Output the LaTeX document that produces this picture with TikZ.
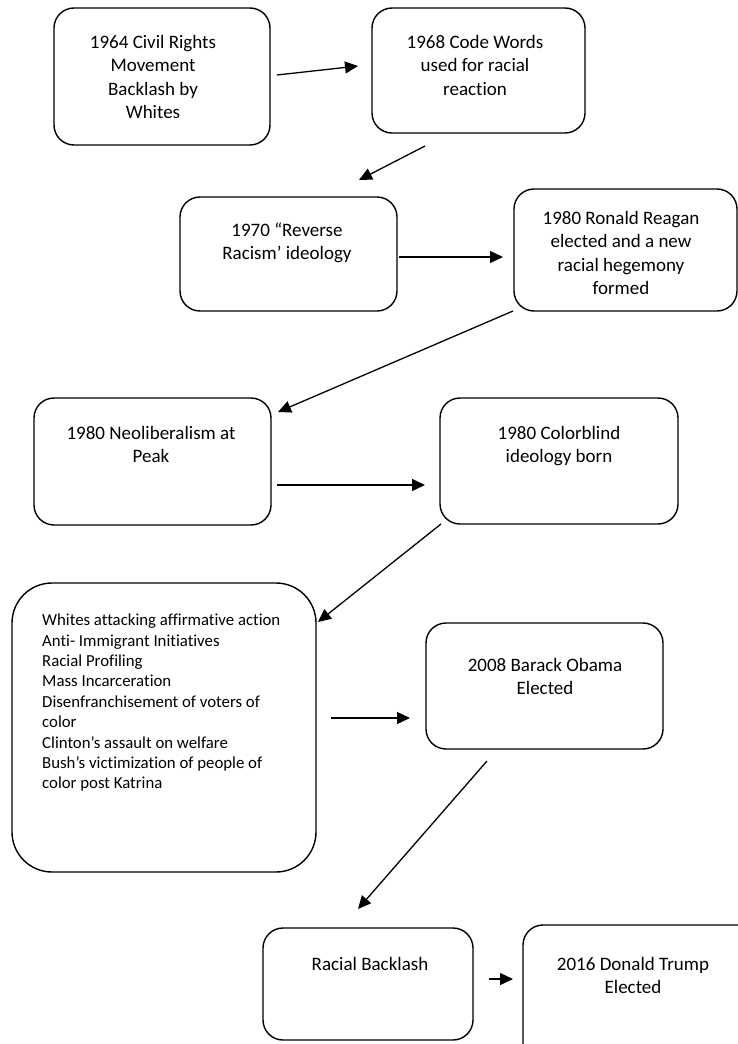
\documentclass[tikz,border=0pt]{standalone}
\usepackage{fontspec}
\setmainfont{Carlito}[Ligatures={NoCommon}]
\usetikzlibrary{arrows.meta}
\begin{document}
\begin{tikzpicture}[x=1pt,y=-1pt,
  box/.style={draw=black,line width=1.4pt,rounded corners=20pt,inner sep=0pt,minimum width=#1},
  txt/.style={inner sep=0pt,anchor=north,align=center,font=\fontsize{19}{23.3}\selectfont},
  arr/.style={line width=1.3pt,-{Triangle[length=13pt,width=12pt]}}]
\useasboundingbox (0,0) rectangle (738,1044);
\clip (0,0) rectangle (738,1044);
% boxes
\node[box=216pt,minimum height=137pt] (b1) at (162,76.5) {};
\node[box=213pt,minimum height=125pt] (b2) at (478.5,70.5) {};
\node[box=217pt,minimum height=114pt] (b3) at (288.5,254) {};
\node[box=223pt,minimum height=122pt] (b4) at (625.5,250) {};
\node[box=237pt,minimum height=127pt] (b5) at (152.5,461.5) {};
\node[box=238pt,minimum height=126pt] (b6) at (559,461) {};
\node[box=304pt,minimum height=289pt,rounded corners=40pt] (b7) at (164,727.5) {};
\node[box=237pt,minimum height=126pt] (b8) at (544.5,686) {};
\node[box=210pt,minimum height=112pt] (b9) at (368,984) {};
\node[box=237pt,minimum height=139pt] (b10) at (641.5,994.5) {};
% texts
\node[txt] (t1) at (153,32.3) {\rule{0pt}{16pt}1964 Civil Rights\\Movement\\Backlash by\\Whites};
\node[txt] (t2) at (475,32.3) {\rule{0pt}{16pt}1968 Code Words\\used for racial\\reaction};
\node[txt] (t3) at (287,220.3) {\rule{0pt}{16pt}1970 “Reverse\\Racism’ ideology};
\node[txt] (t4) at (621,208.3) {\rule{0pt}{16pt}1980 Ronald Reagan\\elected and a new\\racial hegemony\\formed};
\node[txt] (t5) at (151,423.3) {\rule{0pt}{16pt}1980 Neoliberalism at\\Peak};
\node[txt] (t6) at (559,423.3) {\rule{0pt}{16pt}1980 Colorblind\\ideology born};
\node[txt,anchor=north west,align=left,font=\fontsize{16.8}{20.4}\selectfont] (t7) at (42,611.5) {\rule{0pt}{14pt}Whites attacking affirmative action\\Anti- Immigrant Initiatives\\Racial Profiling\\Mass Incarceration\\Disenfranchisement of voters of\\color\\Clinton’s assault on welfare\\Bush’s victimization of people of\\color post Katrina};
\node[txt] (t8) at (545,655.3) {\rule{0pt}{16pt}2008 Barack Obama\\Elected};
\node[txt] (t9) at (370,954.3) {\rule{0pt}{16pt}Racial Backlash};
\node[txt] (t10) at (633,954.3) {\rule{0pt}{16pt}2016 Donald Trump\\Elected};
% arrow end points
\coordinate (a1s) at (277,75);  \coordinate (a1e) at (358,66);
\coordinate (a2s) at (425,146); \coordinate (a2e) at (359,180);
\coordinate (a3s) at (399,257); \coordinate (a3e) at (503,257);
\coordinate (a4s) at (513,311); \coordinate (a4e) at (278,412);
\coordinate (a5s) at (277,485); \coordinate (a5e) at (425,485);
\coordinate (a6s) at (441,524); \coordinate (a6e) at (318,622);
\coordinate (a7s) at (331,718); \coordinate (a7e) at (410,718);
\coordinate (a8s) at (487,761); \coordinate (a8e) at (358,909);
\coordinate (a9s) at (489,979); \coordinate (a9e) at (513,979);
\draw[arr] (a1s) -- (a1e);
\draw[arr] (a2s) -- (a2e);
\draw[arr] (a3s) -- (a3e);
\draw[arr] (a4s) -- (a4e);
\draw[arr] (a5s) -- (a5e);
\draw[arr] (a6s) -- (a6e);
\draw[arr] (a7s) -- (a7e);
\draw[arr] (a8s) -- (a8e);
\draw[arr] (a9s) -- (a9e);
\end{tikzpicture}
\end{document}
